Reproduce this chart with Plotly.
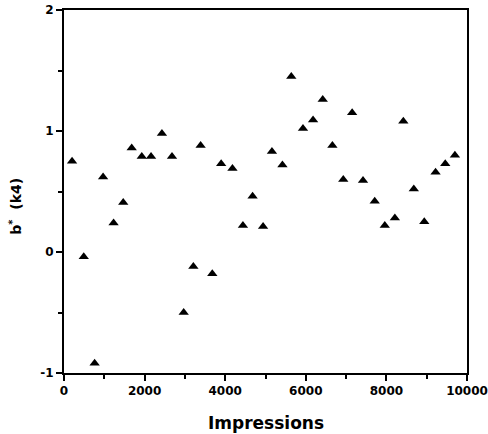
import plotly.graph_objects as go

# Impression counts and measured b* (k4) values
impressions = [200, 490, 760, 970, 1230, 1470, 1680, 1930, 2160, 2430,
               2680, 2970, 3210, 3390, 3680, 3900, 4180, 4440, 4680, 4940,
               5160, 5420, 5640, 5930, 6180, 6420, 6660, 6930, 7150, 7420,
               7710, 7960, 8210, 8420, 8680, 8940, 9220, 9460, 9700]
b_star = [0.75, -0.04, -0.92, 0.62, 0.24, 0.41, 0.86, 0.79, 0.79, 0.98,
          0.79, -0.50, -0.12, 0.88, -0.18, 0.73, 0.69, 0.22, 0.46, 0.21,
          0.83, 0.72, 1.45, 1.02, 1.09, 1.26, 0.88, 0.60, 1.15, 0.59,
          0.42, 0.22, 0.28, 1.08, 0.52, 0.25, 0.66, 0.73, 0.80]

x_ticks = [0, 2000, 4000, 6000, 8000, 10000]
y_ticks = [-1, 0, 1, 2]

FONT = "DejaVu Sans"

fig = go.Figure(go.Scatter(
    x=impressions, y=b_star, mode="markers",
    marker=dict(symbol="triangle-up", size=9, color="black"),
    showlegend=False,
))

axis_common = dict(
    showgrid=False, zeroline=False, showline=True, linecolor="black",
    linewidth=2, mirror=True, ticks="outside", ticklen=6, tickwidth=2,
    tickcolor="black", automargin=False,
    tickfont=dict(family=FONT, size=12, color="black", weight="bold"),
)

fig.update_xaxes(
    range=[0, 10000], tickvals=x_ticks, ticktext=[str(v) for v in x_ticks],
    minor=dict(dtick=1000, ticks="outside", ticklen=4, tickwidth=1.5,
               tickcolor="black", showgrid=False),
    **axis_common,
)
fig.update_yaxes(
    range=[-1, 2], tickvals=y_ticks, ticktext=[str(v) for v in y_ticks],
    minor=dict(dtick=0.5, ticks="outside", ticklen=4, tickwidth=1.5,
               tickcolor="black", showgrid=False),
    **axis_common,
)

fig.add_annotation(
    text="Impressions", xref="paper", yref="paper", x=0.5, y=-0.105,
    xanchor="center", yanchor="top", showarrow=False,
    font=dict(family=FONT, size=17, color="black", weight="bold"),
)
fig.add_annotation(
    text="b<sup>*</sup>  (k4)", xref="paper", yref="paper", x=-0.12, y=0.46,
    xanchor="center", yanchor="middle", textangle=-90, showarrow=False,
    font=dict(family=FONT, size=14, color="black", weight="bold"),
)

fig.update_layout(
    width=488, height=434,
    margin=dict(l=64, r=21, t=10, b=61),
    paper_bgcolor="white", plot_bgcolor="white",
)

fig.write_html("out.html")
